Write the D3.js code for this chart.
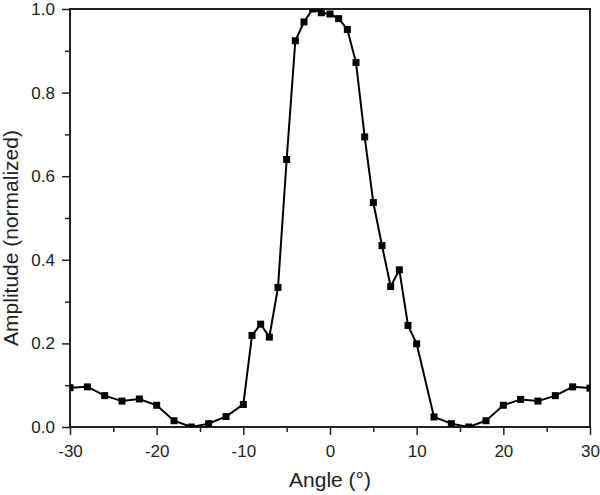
<!DOCTYPE html>
<html>
<head>
<meta charset="utf-8">
<script src="https://cdn.jsdelivr.net/npm/d3@7"></script>
<style>
  body { margin: 0; background: #fff; }
  svg text { font-family: "Liberation Sans", Arial, sans-serif; fill: #222; }
</style>
</head>
<body>
<svg id="chart" width="600" height="495"></svg>
<script>
// angle in degrees, normalized amplitude
let angles = [-30, -28, -26, -24, -22, -20, -18, -16, -14, -12, -10,
              -9, -8, -7, -6, -5, -4, -3, -2, -1, 0, 1, 2, 3, 4, 5, 6, 7, 8, 9, 10,
              12, 14, 16, 18, 20, 22, 24, 26, 28, 30];
let amplitudes = [0.094, 0.096, 0.075, 0.062, 0.067, 0.052, 0.015, 0.0, 0.008, 0.025, 0.054,
                  0.219, 0.246, 0.215, 0.334, 0.640, 0.924, 0.969, 1.0, 0.991, 0.988, 0.977, 0.951, 0.872, 0.694, 0.537, 0.434, 0.336, 0.376, 0.243, 0.199,
                  0.024, 0.008, 0.0, 0.015, 0.052, 0.066, 0.062, 0.075, 0.096, 0.093];
let xTicks = [-30, -20, -10, 0, 10, 20, 30];
let yTicks = [0.0, 0.2, 0.4, 0.6, 0.8, 1.0];

let data = angles.map((a, i) => ({angle: a, amp: amplitudes[i]}));

let margin = {top: 9, right: 10, bottom: 68, left: 70};
let width = 600, height = 495;
let plotW = width - margin.left - margin.right;
let plotH = height - margin.top - margin.bottom;

let svg = d3.select("#chart");
let graph = svg.append("g")
    .attr("transform", `translate(${margin.left}, ${margin.top})`);

let x = d3.scaleLinear().domain([-30, 30]).range([0, plotW]);
let y = d3.scaleLinear().domain([0, 1]).range([plotH, 0]);

graph.append("clipPath").attr("id", "clip")
    .append("rect").attr("width", plotW).attr("height", plotH);

// minor ticks
graph.append("g")
    .attr("transform", `translate(0, ${plotH})`)
    .call(d3.axisBottom(x).tickValues(d3.range(-25, 30, 10)).tickSize(5).tickFormat(""))
    .call(g => g.select(".domain").remove())
    .selectAll("line").attr("stroke", "#222").attr("stroke-width", 1.5);
graph.append("g")
    .call(d3.axisLeft(y).tickValues(d3.range(0.1, 1, 0.2)).tickSize(5).tickFormat(""))
    .call(g => g.select(".domain").remove())
    .selectAll("line").attr("stroke", "#222").attr("stroke-width", 1.5);

// major ticks + labels (plain hyphen for negatives, like the original)
let xAxis = graph.append("g")
    .attr("transform", `translate(0, ${plotH})`)
    .call(d3.axisBottom(x).tickValues(xTicks).tickSize(8).tickPadding(6)
        .tickFormat(d => String(d)));
let yAxis = graph.append("g")
    .call(d3.axisLeft(y).tickValues(yTicks).tickSize(8).tickPadding(7)
        .tickFormat(d => d.toFixed(1)));

[xAxis, yAxis].forEach(ax => {
    ax.select(".domain").remove();
    ax.selectAll("line").attr("stroke", "#222").attr("stroke-width", 1.5);
    ax.selectAll("text").style("font-size", "17px").attr("fill", "#222");
});
xAxis.selectAll("text").attr("dy", "0.95em");

// frame
graph.append("rect")
    .attr("width", plotW).attr("height", plotH)
    .attr("fill", "none").attr("stroke", "#222").attr("stroke-width", 2);

// series
let plot = graph.append("g").attr("clip-path", "url(#clip)");
let line = d3.line().x(d => x(d.angle)).y(d => y(d.amp));
plot.append("path")
    .datum(data)
    .attr("d", line)
    .attr("fill", "none")
    .attr("stroke", "#000")
    .attr("stroke-width", 2);

let m = 7;
plot.selectAll("rect.pt")
    .data(data)
    .enter().append("rect")
    .attr("class", "pt")
    .attr("x", d => x(d.angle) - m / 2)
    .attr("y", d => y(d.amp) - m / 2)
    .attr("width", m).attr("height", m)
    .attr("fill", "#000");

// axis titles
svg.append("text")
    .attr("x", margin.left + x(0))
    .attr("y", 487)
    .style("text-anchor", "middle")
    .style("font-size", "21px")
    .text("Angle (°)");

svg.append("text")
    .attr("transform", `translate(18, 238) rotate(-90)`)
    .style("text-anchor", "middle")
    .style("font-size", "21px")
    .text("Amplitude (normalized)");
</script>
</body>
</html>
